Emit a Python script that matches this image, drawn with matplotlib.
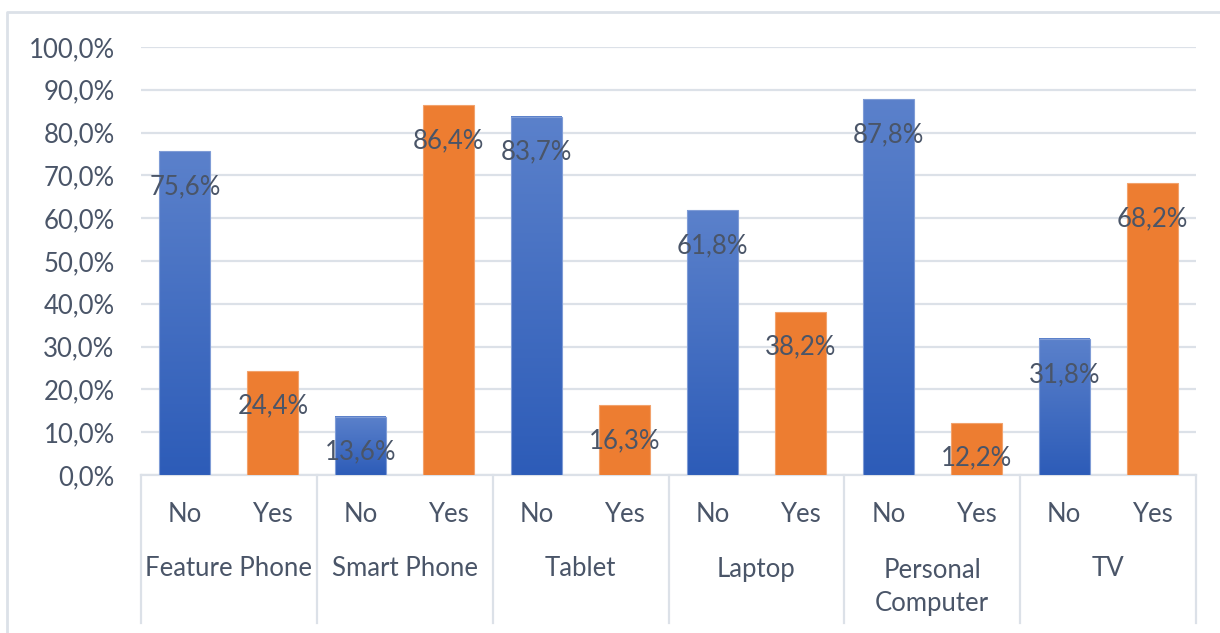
import numpy as np
import matplotlib.pyplot as plt
from matplotlib.colors import LinearSegmentedColormap
from matplotlib.transforms import blended_transform_factory

plt.rcParams['font.family'] = ['Lato', 'DejaVu Sans']

devices = ["Feature Phone", "Smart Phone", "Tablet", "Laptop", "Personal\nComputer", "TV"]
answers = ["No", "Yes"]
no_pct = [75.6, 13.6, 83.7, 61.8, 87.8, 31.8]
yes_pct = [24.4, 86.4, 16.3, 38.2, 12.2, 68.2]
yticks = [0, 10, 20, 30, 40, 50, 60, 70, 80, 90, 100]

text_col = "#4A5568"
grid_col = "#DCE1E8"
orange = "#ED7D31"
blue_grad = LinearSegmentedColormap.from_list("bluegrad", ["#2D5CB8", "#5B81CB"])
fs = 18.5

W, H = 1220, 633
fig = plt.figure(figsize=(W / 100, H / 100), dpi=100)
ax = fig.add_axes([141 / W, (H - 475) / H, (1196 - 141) / W, 428 / H])

bw = 0.58
grad = np.linspace(0, 1, 256).reshape(-1, 1)
for i, (n, y) in enumerate(zip(no_pct, yes_pct)):
    xn = 2 * i + 0.5
    xy = 2 * i + 1.5
    # blue bar with vertical gradient
    ax.imshow(grad, cmap=blue_grad, origin="lower", aspect="auto",
              extent=(xn - bw / 2, xn + bw / 2, 0, n), zorder=3)
    ax.add_patch(plt.Rectangle((xn - bw / 2, 0), bw, n, fill=False,
                               edgecolor="#7F9CD6", lw=0.8, zorder=3))
    ax.bar(xy, y, width=bw, color=orange, edgecolor="#F2A26C", lw=0.8, zorder=3)
    for x, v in ((xn, n), (xy, y)):
        ax.annotate(f"{v:.1f}%".replace(".", ","), (x, v), xytext=(0, -25.5),
                    textcoords="offset points", ha="center", va="center",
                    fontsize=fs, color=text_col, zorder=4)
ax.set_xlim(0, 12)
ax.set_ylim(0, 100)

ax.set_yticks(yticks)
ax.set_yticklabels([f"{t:.1f}%".replace(".", ",") for t in yticks])
ax.tick_params(axis="y", length=0, pad=19, labelsize=fs, labelcolor=text_col)
ax.set_xticks([])
ax.grid(axis="y", color=grid_col, lw=1.6, zorder=0)
for s in ax.spines.values():
    s.set_visible(False)

# multi-level category axis
tr = blended_transform_factory(ax.transData, ax.transAxes)
ax.plot([0, 12], [0, 0], color=grid_col, lw=1.6, transform=tr, clip_on=False, zorder=2)
sep_bottom = (475 - 623) / 428
for k in range(7):
    ax.plot([2 * k, 2 * k], [0, sep_bottom], color=grid_col, lw=1.6,
            transform=tr, clip_on=False)
for i, name in enumerate(devices):
    for j, a in enumerate(answers):
        ax.text(2 * i + j + 0.5, (475 - 514) / 428, a, transform=tr, ha="center",
                va="center", fontsize=fs, color=text_col)
    yc = 587 if "\n" in name else 569
    ax.text(2 * i + 1, (475 - yc) / 428, name, transform=tr, ha="center",
            va="center", fontsize=fs, color=text_col, linespacing=1.42)

# chart frame
fig.add_artist(plt.Line2D([7 / W, 7 / W, 1], [0, 1 - 12 / H, 1 - 12 / H],
                          color=grid_col, lw=2, transform=fig.transFigure))

fig.savefig("out.png", dpi=100, facecolor="white")
